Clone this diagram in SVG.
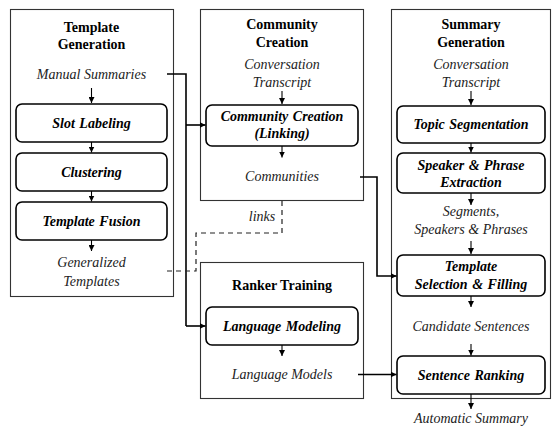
<svg xmlns="http://www.w3.org/2000/svg" width="552" height="429" viewBox="0 0 552 429">
<defs>
<marker id="ah" viewBox="0 0 8 8" refX="8" refY="4" markerWidth="6" markerHeight="6" orient="auto" markerUnits="userSpaceOnUse">
<path d="M0,0 L8,4 L0,8 Z" fill="#000"/>
</marker>
</defs>
<style>
.panel{fill:#fff;stroke:#333;stroke-width:1.1}
.step{fill:#fff;stroke:#000;stroke-width:1.6}
text{font-family:Liberation Serif,Tinos,Noto Serif,FreeSerif,serif;font-size:14px;text-anchor:middle}
.title{font-weight:bold;fill:#000}
.lbl{font-style:italic;fill:#222}
.stepText{font-style:italic;font-weight:bold;fill:#000;word-spacing:1px}
.arr{fill:none;stroke:#000;stroke-width:1.1;marker-end:url(#ah)}
.conn{fill:none;stroke:#000;stroke-width:1.6}
.connA{fill:none;stroke:#000;stroke-width:1.6;marker-end:url(#ah)}
.dash{fill:none;stroke:#222;stroke-width:1.2;stroke-dasharray:5,4}
</style>
<rect width="552" height="429" fill="#fff"/>

<g id="template-generation">
<rect class="panel" x="10.5" y="9.5" width="163" height="287"/>
<text class="title" x="91.5" y="32">Template</text>
<text class="title" x="91.5" y="49">Generation</text>
<text class="lbl" x="91.5" y="79">Manual Summaries</text>
<path class="arr" d="M91.5,88 V103"/>
<g id="slot-labeling"><rect class="step" x="16" y="104" width="151" height="38" rx="6"/>
<text class="stepText" x="91.5" y="128">Slot Labeling</text></g>
<path class="arr" d="M91.5,142 V152.5"/>
<g id="clustering"><rect class="step" x="16" y="153" width="151" height="38" rx="6"/>
<text class="stepText" x="91.5" y="177">Clustering</text></g>
<path class="arr" d="M91.5,191 V201.5"/>
<g id="template-fusion"><rect class="step" x="16" y="202" width="151" height="38" rx="6"/>
<text class="stepText" x="91.5" y="226">Template Fusion</text></g>
<path class="arr" d="M91.5,240 V251"/>
<text class="lbl" x="91.5" y="267">Generalized</text>
<text class="lbl" x="91.5" y="286">Templates</text>
</g>

<g id="community-creation">
<rect class="panel" x="200.5" y="9.5" width="163" height="191"/>
<text class="title" x="282" y="29">Community</text>
<text class="title" x="282" y="47">Creation</text>
<text class="lbl" x="282" y="69">Conversation</text>
<text class="lbl" x="282" y="87">Transcript</text>
<path class="arr" d="M282,91 V104"/>
<g id="community-linking"><rect class="step" x="206" y="105" width="152" height="41" rx="6"/>
<text class="stepText" x="282" y="121">Community Creation</text>
<text class="stepText" x="282" y="138">(Linking)</text></g>
<path class="arr" d="M282,146 V157.5"/>
<text class="lbl" x="282" y="181">Communities</text>
</g>

<g id="ranker-training">
<rect class="panel" x="200.5" y="262.5" width="163" height="136"/>
<text class="title" x="282" y="290">Ranker Training</text>
<g id="language-modeling"><rect class="step" x="206" y="307" width="152" height="38" rx="6"/>
<text class="stepText" x="282" y="331">Language Modeling</text></g>
<path class="arr" d="M282,345 V356"/>
<text class="lbl" x="282" y="379">Language Models</text>
</g>

<g id="summary-generation">
<rect class="panel" x="391.5" y="9.5" width="159" height="389"/>
<text class="title" x="471" y="29">Summary</text>
<text class="title" x="471" y="47">Generation</text>
<text class="lbl" x="471" y="69">Conversation</text>
<text class="lbl" x="471" y="87">Transcript</text>
<path class="arr" d="M471,91 V105"/>
<g id="topic-segmentation"><rect class="step" x="397" y="106" width="148" height="37" rx="6"/>
<text class="stepText" x="471" y="129">Topic Segmentation</text></g>
<path class="arr" d="M471,143 V152.5"/>
<g id="speaker-phrase"><rect class="step" x="397" y="153" width="148" height="40" rx="6"/>
<text class="stepText" x="471" y="170">Speaker &amp; Phrase</text>
<text class="stepText" x="471" y="187">Extraction</text></g>
<path class="arr" d="M471,193 V205"/>
<text class="lbl" x="471" y="216">Segments,</text>
<text class="lbl" x="471" y="234">Speakers &amp; Phrases</text>
<path class="arr" d="M471,241 V254"/>
<g id="template-selection"><rect class="step" x="397" y="255" width="148" height="41" rx="6"/>
<text class="stepText" x="471" y="271">Template</text>
<text class="stepText" x="471" y="289">Selection &amp; Filling</text></g>
<path class="arr" d="M471,296 V307"/>
<text class="lbl" x="471" y="331">Candidate Sentences</text>
<path class="arr" d="M471,344 V355.5"/>
<g id="sentence-ranking"><rect class="step" x="397" y="356" width="148" height="38" rx="6"/>
<text class="stepText" x="471" y="380">Sentence Ranking</text></g>
<path class="arr" d="M471,394 V409"/>
<text class="lbl" x="471" y="423">Automatic Summary</text>
</g>

<g id="connectors">
<path class="conn" d="M167,74 H186 V326"/>
<path class="connA" d="M186,326 H205.5"/>
<path class="connA" d="M186,125 H205.5"/>
<path class="connA" d="M360,177 H377 V276 H396.5"/>
<path class="connA" d="M358,374.5 H396.5"/>
<path class="dash" d="M282,201 V233 H196 V271 H165"/>
<text class="lbl" x="262" y="221">links</text>
</g>
</svg>
